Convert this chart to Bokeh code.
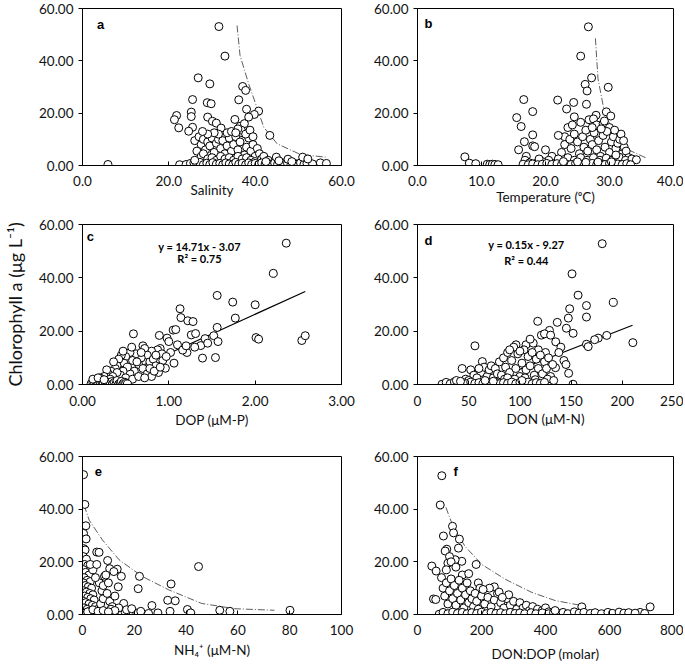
from bokeh.plotting import figure
from bokeh.layouts import gridplot
from bokeh.models import Range1d, NumeralTickFormatter, FixedTicker, Label
from bokeh.embed import file_html
from bokeh.resources import INLINE

# ---------------- data ----------------
Y_TICKS = [0, 20, 40, 60]

# panel a : salinity vs chl a
sal_x = [
    5.9, 31.6, 33.0, 26.8, 29.5, 37.1, 37.8, 25.5, 36.2, 28.9,
    29.8, 38.0, 40.8, 25.2, 39.8, 21.8, 21.3, 25.2, 29.0, 30.1,
    31.0, 35.3, 43.4, 32.1, 25.5, 24.6, 22.3, 36.5, 37.5, 38.5,
    26.0, 27.0, 27.5, 28.0, 28.5, 29.0, 29.5, 30.0, 30.5, 31.0,
    31.5, 32.0, 32.5, 33.0, 33.5, 34.0, 34.5, 35.0, 35.5, 36.0,
    36.5, 37.0, 37.5, 38.0, 38.5, 39.0, 39.5, 40.0, 40.5, 41.0,
    26.5, 27.5, 28.0, 29.0, 30.0, 31.0, 32.0, 33.0, 34.0, 35.0,
    36.0, 37.0, 38.0, 39.0, 40.0, 41.5, 42.0, 43.0, 36.8, 37.8,
    33.5, 31.5, 30.5, 29.0, 27.8, 38.8, 39.5, 36.0, 34.5, 35.5,
    22.5, 24.0, 25.0, 25.8, 26.5, 27.2, 28.0, 28.8, 29.5, 30.2,
    31.0, 31.8, 32.5, 33.2, 34.0, 34.8, 35.5, 36.2, 37.0, 37.8,
    38.5, 39.2, 40.0, 40.8, 41.5, 42.3, 43.0, 43.8, 44.5, 45.2,
    46.0, 46.8, 47.5, 48.3, 49.0, 49.8, 50.5, 51.3, 52.0, 53.3,
    44.9, 47.6, 51.0, 52.2, 55.1, 56.5, 45.5, 48.5, 26.0, 42.5,
]
sal_y = [
    0.4, 53.1, 41.8, 33.5, 31.2, 30.2, 28.7, 25.2, 25.1, 24.0,
    23.6, 21.5, 20.8, 20.4, 19.5, 19.1, 17.5, 18.7, 18.5, 16.9,
    16.2, 17.6, 11.5, 14.3, 14.6, 13.1, 14.4, 15.0, 16.0, 18.5,
    9.5, 11.0, 8.0, 10.0, 6.0, 9.0, 7.5, 10.5, 5.0, 8.5,
    10.0, 6.5, 9.5, 4.5, 7.5, 10.5, 5.5, 8.0, 11.0, 6.0,
    9.0, 12.5, 4.0, 7.0, 10.5, 5.5, 8.0, 3.5, 6.5, 4.5,
    5.5, 3.5, 4.5, 2.5, 3.0, 2.0, 3.5, 2.5, 3.0, 2.0,
    3.5, 2.5, 3.0, 2.0, 1.5, 2.5, 3.5, 2.0, 13.5, 12.0,
    12.5, 12.0, 12.5, 12.0, 13.0, 13.5, 11.0, 14.0, 13.0, 12.5,
    0.3, 0.4, 0.8, 1.0, 0.5, 1.2, 0.3, 0.9, 0.4, 1.1,
    0.5, 0.8, 0.3, 1.0, 0.6, 0.3, 1.2, 0.5, 0.9, 0.3,
    1.0, 0.4, 0.8, 0.3, 1.0, 0.5, 0.8, 0.3, 1.0, 0.5,
    1.2, 0.4, 0.8, 0.3, 0.9, 0.5, 1.0, 0.4, 0.8, 0.6,
    3.2, 2.4, 3.2, 2.5, 1.0, 0.8, 1.8, 1.5, 2.0, 1.5,
]
sal_env_x = [35.8, 36.5, 38.5, 42.0, 45.1, 50.5, 56.3]
sal_env_y = [53.5, 42.0, 31.2, 14.6, 8.3, 4.2, 3.2]

# panel b : temperature vs chl a
tmp_x = [
    7.4, 8.1, 9.1, 10.9, 11.3, 11.7, 12.1, 12.6, 15.5, 16.2,
    16.6, 16.7, 15.8, 18.0, 18.0, 18.0, 18.3, 21.9, 24.4, 23.3,
    26.7, 25.5, 27.2, 26.2, 26.5, 29.8, 26.4, 29.5, 27.9, 30.2,
    24.5, 26.8, 27.5, 25.5, 28.0, 29.0, 30.0, 23.5, 23.0, 22.0,
    22.5, 23.0, 23.8, 24.0, 24.5, 25.0, 25.3, 25.8, 26.0, 26.3,
    26.6, 27.0, 27.3, 27.6, 28.0, 28.3, 28.6, 29.0, 29.3, 29.6,
    30.0, 30.3, 30.6, 31.0, 31.3, 31.6, 32.0, 32.3, 32.6, 33.0,
    20.0, 21.0, 22.0, 20.5, 19.5, 17.0, 16.8, 17.5, 18.5, 19.0,
    23.5, 24.5, 25.5, 26.5, 27.5, 28.5, 29.5, 30.5, 31.5, 32.5,
    33.5, 34.2, 31.8, 30.8, 29.2, 28.7, 27.3, 31.0, 32.2, 24.2,
    16.5, 17.3, 18.0, 18.8, 19.5, 20.2, 21.0, 21.8, 22.5, 23.2,
    24.0, 24.7, 25.3, 26.0, 26.7, 27.3, 28.0, 28.7, 29.3, 30.0,
    30.7, 31.3, 32.0, 32.7, 33.3, 26.3, 28.2, 30.3, 22.8, 25.0,
]
tmp_y = [
    3.3, 0.9, 0.7, 0.5, 0.4, 0.5, 0.4, 0.3, 18.3, 14.9,
    25.2, 9.1, 6.0, 20.6, 11.7, 7.5, 7.2, 25.0, 24.1, 21.6,
    53.0, 41.8, 33.5, 31.0, 28.5, 29.9, 23.4, 20.5, 19.2, 18.9,
    18.6, 17.5, 17.8, 16.5, 15.5, 16.0, 14.5, 14.5, 11.0, 11.5,
    5.0, 8.0, 10.0, 6.5, 12.0, 9.0, 4.5, 11.0, 7.0, 13.5,
    5.5, 10.0, 8.0, 12.5, 6.0, 9.5, 3.5, 11.5, 7.0, 13.0,
    5.0, 9.0, 11.0, 6.5, 8.5, 10.0, 4.5, 7.0, 5.5, 3.0,
    6.0, 3.5, 2.5, 2.0, 1.5, 3.5, 2.0, 1.0, 0.8, 2.5,
    3.0, 2.0, 3.0, 2.0, 3.0, 2.0, 2.8, 2.0, 3.2, 2.0,
    2.5, 2.2, 12.0, 13.5, 17.0, 14.0, 14.5, 4.0, 9.5, 15.5,
    0.5, 0.3, 0.6, 0.3, 0.5, 0.8, 0.4, 0.7, 0.3, 0.6,
    0.4, 0.8, 0.3, 0.6, 0.4, 0.8, 0.3, 0.6, 0.4, 0.8,
    0.3, 0.6, 0.4, 0.7, 0.3, 1.2, 1.3, 1.4, 1.5, 1.4,
]
tmp_env_x = [27.8, 28.2, 29.2, 30.8, 32.4, 35.8]
tmp_env_y = [48.6, 33.2, 20.5, 11.7, 6.6, 2.8]

# panel c : DOP vs chl a
dop_x = [
    2.36, 2.21, 1.56, 1.74, 2.00, 1.77, 1.13, 1.14, 1.22, 1.28,
    0.59, 1.56, 1.05, 1.08, 0.89, 1.26, 1.31, 1.52, 2.54, 2.58,
    2.01, 2.04, 1.57, 1.39, 1.54, 1.21, 1.37, 0.98, 1.00, 0.96,
    1.06, 1.10, 1.16, 1.42, 1.45, 1.30, 1.20, 0.90, 0.87, 0.92,
    1.02, 0.80, 0.70, 0.72, 0.75, 0.68, 0.62, 0.58, 0.55, 0.50,
    0.48, 0.45, 0.42, 0.40, 0.38, 0.36, 0.33, 0.30, 0.28, 0.25,
    0.22, 0.20, 0.65, 0.70, 0.78, 0.82, 0.85, 0.88, 0.75, 0.80,
    0.60, 0.55, 0.52, 0.47, 0.44, 0.40, 0.35, 0.32, 0.50, 0.58,
    0.65, 0.72, 0.63, 0.68, 0.57, 0.47, 0.85, 0.93, 0.97, 0.78,
    0.83, 0.90, 0.10, 0.12, 0.14, 0.15, 0.17, 0.18, 0.20, 0.21,
    0.23, 0.24, 0.26, 0.27, 0.29, 0.30, 0.32, 0.34, 0.35, 0.37,
    0.39, 0.40, 0.42, 0.44, 0.45, 0.47, 0.49, 0.50, 0.52, 0.12,
    0.18, 0.25,
]
dop_y = [
    53.0, 41.7, 33.4, 30.9, 29.9, 24.9, 28.4, 25.1, 23.9, 23.6,
    19.0, 21.4, 20.4, 20.6, 18.4, 18.6, 19.1, 18.3, 16.5, 18.3,
    17.6, 17.0, 16.1, 9.9, 10.1, 12.0, 14.6, 17.4, 16.1, 6.1,
    8.0, 14.9, 12.9, 17.2, 15.5, 14.0, 14.5, 13.5, 13.0, 11.5,
    12.0, 12.5, 14.5, 13.5, 11.0, 10.0, 11.5, 9.0, 12.0, 10.5,
    8.0, 11.0, 9.5, 7.0, 6.0, 8.5, 5.0, 4.0, 5.5, 3.0,
    2.0, 2.5, 7.5, 6.0, 8.5, 9.5, 7.0, 4.5, 4.0, 3.0,
    5.0, 4.0, 6.5, 5.0, 3.5, 4.5, 3.0, 2.0, 2.5, 2.0,
    3.0, 2.5, 8.5, 12.0, 14.0, 12.5, 11.0, 9.0, 10.5, 6.0,
    5.0, 6.5, 0.3, 0.8, 0.4, 1.5, 0.6, 0.2, 1.0, 0.4,
    0.8, 0.2, 1.2, 0.5, 0.9, 0.2, 0.7, 1.1, 0.3, 0.8,
    0.4, 1.5, 0.2, 0.6, 1.2, 0.3, 0.8, 0.4, 0.2, 2.0,
    2.5, 1.8,
]
dop_fit = (14.71, -3.07)
dop_fit_x = [0.21, 2.58]

# panel d : DON vs chl a
don_x = [
    180.4, 150.9, 156.8, 191.2, 165.0, 148.6, 165.0, 147.3, 117.4, 136.5,
    145.4, 152.0, 56.1, 210.3, 184.8, 176.5, 173.0, 165.0, 166.7, 128.9,
    121.0, 124.0, 106.0, 96.2, 134.8, 147.6, 151.9, 63.3, 43.6, 24.0,
    130.0, 135.0, 140.0, 143.0, 145.0, 138.0, 113.0, 110.0, 118.0, 125.0,
    62.0, 65.0, 68.0, 70.0, 72.0, 74.0, 76.0, 78.0, 80.0, 82.0,
    84.0, 86.0, 88.0, 90.0, 92.0, 94.0, 96.0, 98.0, 100.0, 102.0,
    104.0, 106.0, 108.0, 110.0, 112.0, 114.0, 116.0, 118.0, 120.0, 122.0,
    124.0, 126.0, 128.0, 130.0, 132.0, 127.0, 133.0, 100.0, 90.0, 85.0,
    52.0, 55.0, 58.0, 60.0, 47.0, 50.0, 88.0, 95.0, 105.0, 115.0,
    28.0, 32.0, 36.0, 40.0, 44.0, 48.0, 52.0, 56.0, 60.0, 64.0,
    68.0, 72.0, 76.0, 80.0, 84.0, 88.0, 92.0, 96.0, 100.0, 104.0,
    108.0, 112.0, 116.0, 120.0, 124.0, 38.0, 42.0, 66.0, 74.0, 102.0,
]
don_y = [
    52.8, 41.5, 33.5, 30.8, 29.6, 28.4, 25.3, 24.9, 23.7, 23.3,
    21.1, 19.2, 14.5, 15.7, 18.4, 17.4, 16.8, 15.1, 14.2, 20.3,
    18.5, 19.0, 14.9, 14.9, 6.3, 4.2, 0.1, 8.6, 6.0, 0.1,
    18.5, 16.0, 14.0, 9.0, 7.5, 12.0, 15.5, 17.0, 13.0, 12.0,
    4.5, 6.5, 3.0, 5.5, 7.0, 2.5, 6.0, 4.0, 8.5, 3.5,
    10.0, 6.5, 12.0, 4.5, 9.0, 14.0, 6.0, 11.5, 3.0, 8.0,
    13.0, 5.5, 10.5, 7.0, 12.0, 3.5, 9.5, 6.0, 11.0, 4.0,
    8.5, 6.0, 10.0, 3.0, 7.5, 2.0, 1.5, 12.5, 13.0, 2.0,
    5.5, 3.5, 2.5, 6.0, 2.0, 1.5, 2.5, 2.0, 2.5, 1.8,
    0.8, 0.3, 1.0, 0.4, 0.8, 0.3, 0.9, 0.4, 0.7, 0.3,
    0.9, 0.4, 0.8, 0.3, 0.7, 0.4, 0.9, 0.3, 0.8, 0.4,
    0.9, 0.3, 0.7, 0.4, 0.8, 1.5, 1.2, 1.5, 1.2, 1.5,
]
don_fit = (0.15, -9.27)
don_fit_x = [61.8, 210.0]

# panel e : NH4+ vs chl a
nh4_x = [
    0.4, 0.9, 1.3, 0.4, 1.4, 5.5, 6.4, 9.7, 10.5, 13.4,
    12.1, 15.0, 22.0, 8.5, 44.8, 34.2, 13.8, 21.5, 32.9, 35.8,
    26.8, 40.5, 53.0, 56.9, 80.1, 33.8, 41.8, 29.1, 25.5, 15.9,
    0.5, 1.0, 0.3, 1.5, 0.8, 2.0, 0.4, 1.2, 2.5, 0.6,
    1.8, 3.0, 0.3, 1.0, 2.2, 3.5, 0.5, 1.5, 2.8, 4.0,
    0.8, 2.0, 3.2, 4.5, 0.4, 1.3, 2.5, 3.8, 5.0, 0.6,
    1.8, 3.0, 4.2, 6.0, 7.0, 8.0, 7.5, 6.5, 5.0, 4.0,
    3.0, 5.5, 8.0, 9.5, 10.5, 11.5, 12.5, 10.0, 9.0, 11.0,
    0.2, 0.8, 1.5, 2.2, 3.0, 3.8, 4.6, 5.5, 6.5, 7.5,
    8.5, 9.5, 10.5, 12.0, 13.5, 15.0, 16.5, 18.0, 19.5, 21.0,
    22.5, 14.0, 17.0, 19.0, 12.5, 2.0, 4.0, 6.0, 8.0, 10.0,
]
nh4_y = [
    53.1, 41.8, 33.7, 30.8, 28.7, 23.7, 23.6, 20.5, 17.4, 17.2,
    16.3, 14.5, 14.5, 14.5, 18.2, 11.6, 10.5, 9.8, 5.4, 5.2,
    3.4, 1.9, 1.6, 1.2, 1.6, 1.2, 0.6, 0.6, 0.4, 4.2,
    25.0, 24.5, 22.0, 21.0, 19.0, 18.5, 17.0, 16.0, 15.0, 14.0,
    13.0, 12.5, 12.0, 11.0, 10.5, 10.0, 9.0, 8.5, 8.0, 7.5,
    7.0, 6.5, 6.0, 5.5, 5.0, 4.5, 4.0, 3.5, 3.0, 2.5,
    2.0, 1.5, 1.0, 2.0, 4.0, 6.0, 9.0, 12.0, 14.0, 17.0,
    19.0, 19.0, 11.0, 8.0, 5.0, 3.0, 7.0, 12.0, 15.0, 2.0,
    0.3, 0.5, 0.2, 0.6, 0.3, 0.7, 0.3, 0.6, 0.3, 0.8,
    0.4, 0.7, 0.3, 0.6, 0.9, 1.2, 0.8, 1.5, 1.0, 0.5,
    1.2, 2.5, 1.8, 2.2, 1.5, 1.0, 1.8, 1.2, 1.5, 1.0,
]
nh4_env_x = [0.6, 2.6, 7.7, 14.1, 23.0, 33.2, 46.0, 58.7, 74.1]
nh4_env_y = [41.5, 35.8, 28.3, 20.8, 14.5, 9.4, 4.2, 2.2, 1.6]

# panel f : DON:DOP vs chl a
ratio_x = [
    76, 71, 109.4, 112.5, 81, 131, 128, 91.6, 86.5, 44.7,
    58.3, 183.3, 138.5, 117.7, 50, 57, 67.8, 513.5, 727, 695.9,
    100, 95, 90, 105, 120, 140, 160, 190, 195, 240,
    75, 80, 85, 90, 95, 100, 105, 110, 115, 120,
    125, 130, 135, 140, 145, 150, 155, 160, 165, 170,
    175, 180, 185, 190, 200, 210, 220, 230, 240, 250,
    260, 270, 280, 290, 300, 310, 320, 330, 340, 350,
    360, 375, 390, 400, 410, 255, 225, 205, 285, 265,
    80, 95, 110, 125, 140, 155, 170, 185, 200, 215,
    230, 245, 260, 275, 290, 305, 320, 335, 355, 370,
    390, 410, 425, 440, 455, 470, 490, 505, 520, 540,
    555, 575, 595, 610, 630, 645, 660, 680, 710, 430,
]
ratio_y = [
    52.7, 41.6, 33.5, 31.0, 29.8, 28.6, 25.2, 24.8, 24.1, 18.4,
    16.5, 19.0, 20.2, 20.8, 5.9, 5.7, 0.1, 2.9, 2.9, 0.8,
    22.0, 19.5, 17.0, 20.0, 18.0, 15.0, 15.5, 12.0, 10.0, 10.5,
    14.0, 10.0, 7.0, 12.0, 4.0, 9.0, 13.5, 6.0, 11.0, 3.5,
    8.0, 13.0, 5.5, 10.0, 2.5, 7.5, 12.0, 4.5, 9.0, 6.0,
    3.0, 8.0, 5.0, 2.0, 7.0, 4.0, 6.5, 3.0, 5.5, 8.0,
    4.5, 2.5, 6.0, 3.5, 5.0, 2.0, 4.5, 2.5, 3.5, 1.5,
    3.0, 2.0, 1.5, 2.5, 1.0, 8.5, 10.0, 9.5, 7.5, 6.5,
    0.8, 0.3, 0.9, 0.4, 0.8, 0.3, 0.7, 0.4, 0.9, 0.3,
    0.8, 0.4, 0.7, 0.3, 0.8, 0.4, 0.6, 0.3, 0.7, 0.3,
    0.6, 0.3, 0.7, 0.4, 0.8, 0.3, 1.0, 0.5, 0.8, 0.4,
    0.7, 0.3, 0.8, 0.4, 0.9, 0.5, 0.7, 0.5, 0.4, 1.5,
]
ratio_env_x = [88.6, 112.5, 149, 201, 274, 357, 430, 513]
ratio_env_y = [40.7, 33.0, 25.8, 19.0, 13.4, 8.4, 5.3, 3.4]

# axis ticks / labels
a_ticks = [0, 20, 40, 60]
b_ticks = [0, 10, 20, 30, 40]
c_ticks = [0, 1, 2, 3]
d_ticks = [0, 50, 100, 150, 200, 250]
e_ticks = [0, 20, 40, 60, 80, 100]
f_ticks = [0, 200, 400, 600, 800]

FONT = "Lato"


def make_panel(w, h, bl, br, bt, bb, xr, xticks, xfmt, xlabel, tick_so, lab_so):
    p = figure(width=w, height=h, output_backend="svg", toolbar_location=None,
               x_range=Range1d(*xr), y_range=Range1d(0, 60),
               min_border_left=bl, min_border_right=br,
               min_border_top=bt, min_border_bottom=bb,
               background_fill_color="white", border_fill_color="white")
    p.outline_line_color = "black"
    p.outline_line_width = 1
    p.grid.visible = False
    p.xaxis.ticker = FixedTicker(ticks=xticks)
    p.yaxis.ticker = FixedTicker(ticks=Y_TICKS)
    p.xaxis.formatter = NumeralTickFormatter(format=xfmt)
    p.yaxis.formatter = NumeralTickFormatter(format="0.00")
    for ax in (p.xaxis[0], p.yaxis[0]):
        ax.axis_line_color = "black"
        ax.major_tick_line_color = "black"
        ax.minor_tick_line_color = None
        ax.major_label_text_font = FONT
        ax.major_label_text_font_size = "13.5px"
        ax.major_label_text_color = "#111111"
        ax.axis_label_text_font = FONT
        ax.axis_label_text_font_style = "normal"
        ax.axis_label_text_font_size = "13.5px"
        ax.axis_label_text_color = "#111111"
    p.xaxis.major_tick_in = 4
    p.xaxis.major_tick_out = 0
    p.yaxis.major_tick_in = 0
    p.yaxis.major_tick_out = 4
    p.xaxis.major_label_standoff = tick_so
    p.xaxis.axis_label = xlabel
    p.xaxis.axis_label_standoff = lab_so
    return p


def add_points(p, xs, ys):
    p.scatter(xs, ys, marker="circle", size=8, fill_color="white",
              line_color="black", line_width=1)


def add_env(p, xs, ys):
    p.line(xs, ys, line_color="#333333", line_width=0.8, line_dash="7 2 1 2")


def add_letter(p, x, y, t):
    p.add_layout(Label(x=x, y=y, text=t, text_font="Liberation Sans",
                       text_font_style="bold", text_font_size="13px",
                       text_align="center", text_baseline="middle",
                       text_color="black"))


def add_eq(p, x, y, t):
    p.add_layout(Label(x=x, y=y, text=t, text_font=FONT,
                       text_font_style="bold", text_font_size="11px",
                       text_align="center", text_baseline="middle",
                       text_color="black"))


# layout sizes (frames: left column x 82-341, right column x 417-673)
LW, RW = 359, 324
LBL, LBR = 82, 18
RBL, RBR = 58, 10

pa = make_panel(LW, 212, LBL, LBR, 8, 47, (0, 60), a_ticks, "0.0", "Salinity", 10, -7)
pb = make_panel(RW, 212, RBL, RBR, 8, 47, (0, 40), b_ticks, "0.0", "Temperature (ᵒC)", 10, 0)
pc = make_panel(LW, 232, LBL, LBR, 12, 60, (0, 3), c_ticks, "0.00", "DOP (μM-P)", 11, 3)
pd = make_panel(RW, 232, RBL, RBR, 12, 60, (0, 250), d_ticks, "0", "DON (μM-N)", 11, 2)
pe = make_panel(LW, 220, LBL, LBR, 12, 49, (0, 100), e_ticks, "0", "NH₄⁺ (μM-N)", 10, 4)
pf = make_panel(RW, 220, RBL, RBR, 12, 49, (0, 800), f_ticks, "0", "DON:DOP (molar)", 10, 8)

pc.yaxis.axis_label = "Chlorophyll a (μg L⁻¹)"
pc.yaxis.axis_label_text_font_size = "18px"
pc.yaxis.axis_label_standoff = 10

add_env(pa, sal_env_x, sal_env_y)
add_points(pa, sal_x, sal_y)
add_letter(pa, 4.2, 53.9, "a")

add_env(pb, tmp_env_x, tmp_env_y)
add_points(pb, tmp_x, tmp_y)
add_letter(pb, 1.7, 54.3, "b")

fit_c_y = [dop_fit[0] * x + dop_fit[1] for x in dop_fit_x]
pc.line(dop_fit_x, fit_c_y, line_color="black", line_width=1.2)
add_points(pc, dop_x, dop_y)
add_letter(pc, 0.09, 55.5, "c")
add_eq(pc, 1.355, 51.8, "y = 14.71x - 3.07")
add_eq(pc, 1.355, 47.3, "R² = 0.75")

fit_d_y = [don_fit[0] * x + don_fit[1] for x in don_fit_x]
pd.line(don_fit_x, fit_d_y, line_color="black", line_width=1.2)
add_points(pd, don_x, don_y)
add_letter(pd, 10.8, 54.0, "d")
add_eq(pd, 106.3, 52.5, "y = 0.15x - 9.27")
add_eq(pd, 106.3, 46.4, "R² = 0.44")

add_env(pe, nh4_env_x, nh4_env_y)
add_points(pe, nh4_x, nh4_y)
add_letter(pe, 6.1, 54.3, "e")

add_env(pf, ratio_env_x, ratio_env_y)
add_points(pf, ratio_x, ratio_y)
add_letter(pf, 119, 54.4, "f")

grid = gridplot([[pa, pb], [pc, pd], [pe, pf]], toolbar_location=None)

open("out.html", "w").write(file_html(grid, INLINE))
